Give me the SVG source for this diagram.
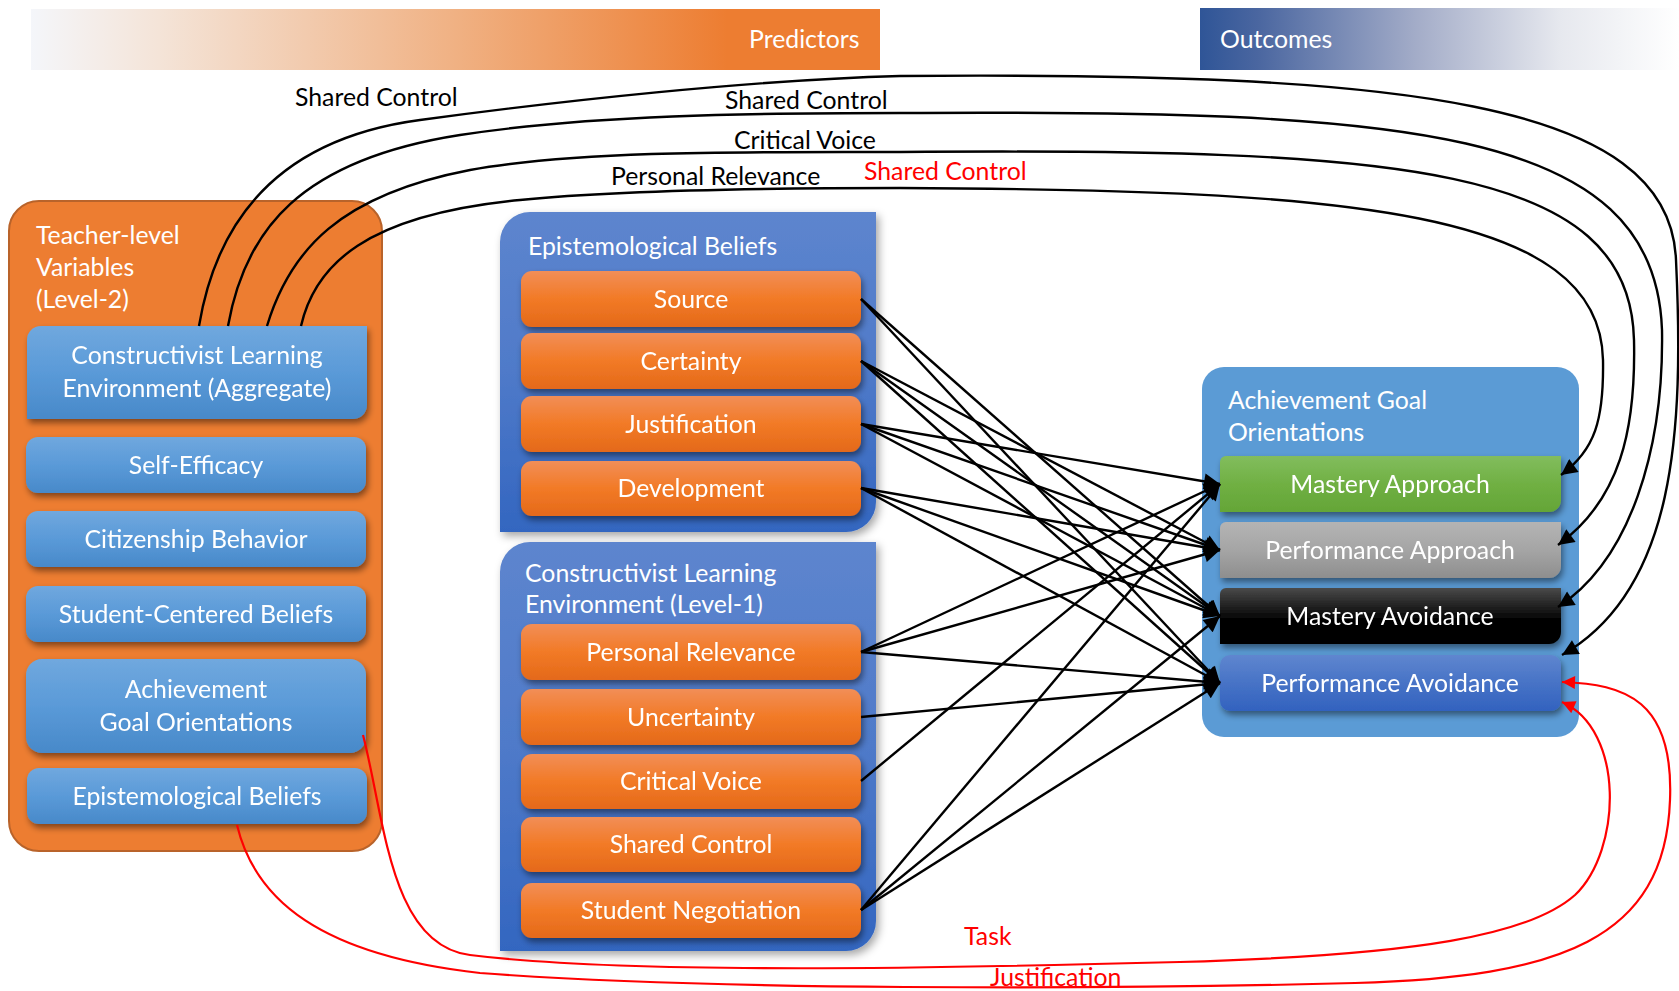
<svg xmlns="http://www.w3.org/2000/svg" width="1679" height="991" viewBox="0 0 1679 991">
  <defs>
    <style>
      text { font-family: Lato, "Open Sans", sans-serif; font-size: 24.8px; }
      .w { fill: #ffffff; }
      .c { text-anchor: middle; }
      .k { fill: #000000; }
      .r { fill: #ff0000; }
      .cv { stroke: #000; stroke-width: 2.4; fill: none; marker-end: url(#ah); }
      .rc { stroke: #ff0000; stroke-width: 2.2; fill: none; marker-end: url(#ahr); }
    </style>
    <linearGradient id="gPred" x1="0" y1="0" x2="1" y2="0">
      <stop offset="0" stop-color="#f4f6fa"/>
      <stop offset="0.15" stop-color="#f4e4d8"/>
      <stop offset="0.5" stop-color="#f0b183"/>
      <stop offset="0.82" stop-color="#ed7d31"/>
      <stop offset="1" stop-color="#ed7d31"/>
    </linearGradient>
    <linearGradient id="gOut" x1="0" y1="0" x2="1" y2="0">
      <stop offset="0" stop-color="#2f5597"/>
      <stop offset="0.12" stop-color="#4a66a0"/>
      <stop offset="0.45" stop-color="#a3acc8"/>
      <stop offset="0.75" stop-color="#e6e8ee"/>
      <stop offset="1" stop-color="#ffffff"/>
    </linearGradient>
    <linearGradient id="gBlue" x1="0" y1="0" x2="0" y2="1">
      <stop offset="0" stop-color="#70a8de"/>
      <stop offset="0.5" stop-color="#5a9ad8"/>
      <stop offset="1" stop-color="#4889c9"/>
    </linearGradient>
    <linearGradient id="gOrange" x1="0" y1="0" x2="0" y2="1">
      <stop offset="0" stop-color="#f28e57"/>
      <stop offset="0.5" stop-color="#f27a26"/>
      <stop offset="1" stop-color="#e4691a"/>
    </linearGradient>
    <linearGradient id="gPanel" x1="0" y1="0" x2="0" y2="1">
      <stop offset="0" stop-color="#5d85ce"/>
      <stop offset="0.5" stop-color="#4f7ac9"/>
      <stop offset="1" stop-color="#3366c0"/>
    </linearGradient>
    <linearGradient id="gGreen" x1="0" y1="0" x2="0" y2="1">
      <stop offset="0" stop-color="#82bd5e"/>
      <stop offset="0.5" stop-color="#70b043"/>
      <stop offset="1" stop-color="#64a537"/>
    </linearGradient>
    <linearGradient id="gGray" x1="0" y1="0" x2="0" y2="1">
      <stop offset="0" stop-color="#b4b4b4"/>
      <stop offset="0.5" stop-color="#a5a5a5"/>
      <stop offset="1" stop-color="#8e8e8e"/>
    </linearGradient>
    <linearGradient id="gBlack" x1="0" y1="0" x2="0" y2="1">
      <stop offset="0" stop-color="#4a4a4a"/>
      <stop offset="0.55" stop-color="#050505"/>
      <stop offset="1" stop-color="#000000"/>
    </linearGradient>
    <linearGradient id="gPav" x1="0" y1="0" x2="0" y2="1">
      <stop offset="0" stop-color="#5f86cf"/>
      <stop offset="0.5" stop-color="#4773c6"/>
      <stop offset="1" stop-color="#3262bf"/>
    </linearGradient>
    <filter id="sh" x="-10%" y="-20%" width="125%" height="160%">
      <feDropShadow dx="2" dy="4" stdDeviation="3" flood-color="#000" flood-opacity="0.45"/>
    </filter>
    <filter id="shp" x="-10%" y="-10%" width="125%" height="125%">
      <feDropShadow dx="3" dy="4" stdDeviation="4" flood-color="#000" flood-opacity="0.35"/>
    </filter>
    <marker id="ah" viewBox="0 0 10 10" refX="10" refY="5" markerWidth="18" markerHeight="16" markerUnits="userSpaceOnUse" orient="auto">
      <path d="M0,0 L10,5 L0,10 Z" fill="#000"/>
    </marker>
    <marker id="ahr" viewBox="0 0 10 10" refX="10" refY="5" markerWidth="15" markerHeight="13" markerUnits="userSpaceOnUse" orient="auto">
      <path d="M0,0 L10,5 L0,10 Z" fill="#ff0000"/>
    </marker>
  </defs>

  <rect width="1679" height="991" fill="#ffffff"/>

  <!-- header bars -->
  <g id="predictors-bar">
    <rect x="31" y="9" width="849" height="61" fill="url(#gPred)"/>
    <text x="749" y="48" class="w">Predictors</text>
  </g>
  <g id="outcomes-bar">
    <rect x="1200" y="8" width="479" height="62" fill="url(#gOut)"/>
    <text x="1220" y="48" class="w">Outcomes</text>
  </g>

  <!-- teacher level panel -->
  <g id="teacher-level">
    <rect x="9" y="201" width="373" height="650" rx="30" fill="#ed7d31" stroke="#b9632a" stroke-width="2"/>
    <text x="36" y="244" class="w">Teacher-level</text>
    <text x="36" y="276" class="w">Variables</text>
    <text x="36" y="308" class="w">(Level-2)</text>
  </g>
  <g id="t-cle-aggregate" filter="url(#sh)">
    <path d="M41,326 H367 V405 A14 14 0 0 1 353,419 H27 V340 A14 14 0 0 1 41,326 Z" fill="url(#gBlue)"/>
    <text x="197" y="364" class="w c">Constructivist Learning</text>
    <text x="197" y="397" class="w c">Environment (Aggregate)</text>
  </g>
  <g id="t-self-efficacy" filter="url(#sh)">
    <rect x="26" y="437" width="340" height="56" rx="12" fill="url(#gBlue)"/>
    <text x="196" y="474" class="w c">Self-Efficacy</text>
  </g>
  <g id="t-citizenship" filter="url(#sh)">
    <rect x="26" y="511" width="340" height="56" rx="12" fill="url(#gBlue)"/>
    <text x="196" y="548" class="w c">Citizenship Behavior</text>
  </g>
  <g id="t-student-centered" filter="url(#sh)">
    <rect x="26" y="586" width="340" height="56" rx="12" fill="url(#gBlue)"/>
    <text x="196" y="623" class="w c">Student-Centered Beliefs</text>
  </g>
  <g id="t-ago" filter="url(#sh)">
    <rect x="26" y="659" width="340" height="94" rx="16" fill="url(#gBlue)"/>
    <text x="196" y="698" class="w c">Achievement</text>
    <text x="196" y="731" class="w c">Goal Orientations</text>
  </g>
  <g id="t-epistemological" filter="url(#sh)">
    <rect x="27" y="768" width="340" height="56" rx="12" fill="url(#gBlue)"/>
    <text x="197" y="805" class="w c">Epistemological Beliefs</text>
  </g>

  <!-- epistemological beliefs panel -->
  <g id="epistemological-beliefs">
    <path d="M530,212 H876 V502 A30 30 0 0 1 846,532 H500 V242 A30 30 0 0 1 530,212 Z" fill="url(#gPanel)" filter="url(#shp)"/>
    <text x="528" y="255" class="w">Epistemological Beliefs</text>
  </g>
  <g id="eb-source" filter="url(#sh)">
    <rect x="521" y="271" width="340" height="56" rx="11" fill="url(#gOrange)"/>
    <text x="691" y="308" class="w c">Source</text>
  </g>
  <g id="eb-certainty" filter="url(#sh)">
    <rect x="521" y="333" width="340" height="56" rx="11" fill="url(#gOrange)"/>
    <text x="691" y="370" class="w c">Certainty</text>
  </g>
  <g id="eb-justification" filter="url(#sh)">
    <rect x="521" y="396" width="340" height="56" rx="11" fill="url(#gOrange)"/>
    <text x="691" y="433" class="w c">Justification</text>
  </g>
  <g id="eb-development" filter="url(#sh)">
    <rect x="521" y="461" width="340" height="55" rx="11" fill="url(#gOrange)"/>
    <text x="691" y="497" class="w c">Development</text>
  </g>

  <!-- constructivist learning environment panel -->
  <g id="cle-level1">
    <path d="M530,542 H876 V921 A30 30 0 0 1 846,951 H500 V572 A30 30 0 0 1 530,542 Z" fill="url(#gPanel)" filter="url(#shp)"/>
    <text x="525" y="582" class="w">Constructivist Learning</text>
    <text x="525" y="613" class="w">Environment (Level-1)</text>
  </g>
  <g id="cle-personal-relevance" filter="url(#sh)">
    <rect x="521" y="624" width="340" height="56" rx="11" fill="url(#gOrange)"/>
    <text x="691" y="661" class="w c">Personal Relevance</text>
  </g>
  <g id="cle-uncertainty" filter="url(#sh)">
    <rect x="521" y="689" width="340" height="56" rx="11" fill="url(#gOrange)"/>
    <text x="691" y="726" class="w c">Uncertainty</text>
  </g>
  <g id="cle-critical-voice" filter="url(#sh)">
    <rect x="521" y="754" width="340" height="55" rx="11" fill="url(#gOrange)"/>
    <text x="691" y="790" class="w c">Critical Voice</text>
  </g>
  <g id="cle-shared-control" filter="url(#sh)">
    <rect x="521" y="817" width="340" height="55" rx="11" fill="url(#gOrange)"/>
    <text x="691" y="853" class="w c">Shared Control</text>
  </g>
  <g id="cle-student-negotiation" filter="url(#sh)">
    <rect x="521" y="883" width="340" height="55" rx="11" fill="url(#gOrange)"/>
    <text x="691" y="919" class="w c">Student Negotiation</text>
  </g>

  <!-- achievement goal orientations panel -->
  <g id="achievement-goals">
    <rect x="1202" y="367" width="377" height="370" rx="22" fill="#5b9bd5"/>
    <text x="1228" y="409" class="w">Achievement Goal</text>
    <text x="1228" y="441" class="w">Orientations</text>
  </g>
  <g id="ago-mastery-approach" filter="url(#sh)">
    <path d="M1226,456 H1561 V500 A12 12 0 0 1 1549,512 H1220 V462 A6 6 0 0 1 1226,456 Z" fill="url(#gGreen)"/>
    <text x="1390" y="493" class="w c">Mastery Approach</text>
  </g>
  <g id="ago-performance-approach" filter="url(#sh)">
    <path d="M1226,522 H1561 V566 A12 12 0 0 1 1549,578 H1220 V528 A6 6 0 0 1 1226,522 Z" fill="url(#gGray)"/>
    <text x="1390" y="559" class="w c">Performance Approach</text>
  </g>
  <g id="ago-mastery-avoidance" filter="url(#sh)">
    <path d="M1226,588 H1561 V632 A12 12 0 0 1 1549,644 H1220 V594 A6 6 0 0 1 1226,588 Z" fill="url(#gBlack)"/>
    <text x="1390" y="625" class="w c">Mastery Avoidance</text>
  </g>
  <g id="ago-performance-avoidance" filter="url(#sh)">
    <rect x="1220" y="655" width="341" height="56" rx="10" fill="url(#gPav)"/>
    <text x="1390" y="692" class="w c">Performance Avoidance</text>
  </g>

  <!-- connectors -->
  <g id="connectors">
    <!-- level-1 predictors to goal orientations -->
    <g class="straight">
      <line class="cv" x1="861" y1="299" x2="1220" y2="616"/>
      <line class="cv" x1="861" y1="299" x2="1220" y2="683"/>
      <line class="cv" x1="861" y1="361" x2="1220" y2="550"/>
      <line class="cv" x1="861" y1="361" x2="1220" y2="616"/>
      <line class="cv" x1="861" y1="361" x2="1220" y2="683"/>
      <line class="cv" x1="861" y1="424" x2="1220" y2="484"/>
      <line class="cv" x1="861" y1="424" x2="1220" y2="550"/>
      <line class="cv" x1="861" y1="424" x2="1220" y2="616"/>
      <line class="cv" x1="861" y1="488" x2="1220" y2="550"/>
      <line class="cv" x1="861" y1="488" x2="1220" y2="616"/>
      <line class="cv" x1="861" y1="488" x2="1220" y2="683"/>
      <line class="cv" x1="861" y1="652" x2="1220" y2="484"/>
      <line class="cv" x1="861" y1="652" x2="1220" y2="550"/>
      <line class="cv" x1="861" y1="652" x2="1220" y2="683"/>
      <line class="cv" x1="861" y1="717" x2="1220" y2="683"/>
      <line class="cv" x1="861" y1="781" x2="1220" y2="484"/>
      <line class="cv" x1="861" y1="910" x2="1220" y2="484"/>
      <line class="cv" x1="861" y1="910" x2="1220" y2="616"/>
      <line class="cv" x1="861" y1="910" x2="1220" y2="683"/>
    </g>
    <!-- cross-level interactions from the aggregate environment -->
    <path class="cv" d="M199,326 C215,230 270,140 420,120 C560,101 750,80 900,76 C1400,72 1670,100 1676,260 C1684,430 1676,590 1562,655"/>
    <path class="cv" d="M228,326 C245,230 300,160 460,135 C590,115 750,113 900,113 C1400,110 1655,125 1662,330 C1664,450 1630,560 1558,607"/>
    <path class="cv" d="M267,326 C290,250 340,195 470,170 C580,150 750,152 900,152 C1400,148 1630,165 1634,340 C1636,430 1620,500 1558,545"/>
    <path class="cv" d="M301,326 C315,265 365,215 520,200 C620,190 780,188 900,188 C1350,190 1600,210 1603,360 C1604,420 1595,450 1561,475"/>
    <!-- red interactions along the bottom -->
    <path class="rc" d="M363,735 C385,820 390,945 470,955 C630,975 950,968 1180,962 C1420,955 1530,935 1575,895 C1622,850 1625,730 1562,702"/>
    <path class="rc" d="M237,825 C255,900 320,955 480,973 C700,990 1100,990 1355,983 C1560,977 1665,940 1670,800 C1674,700 1625,684 1562,682"/>
    <!-- labels -->
    <text x="295" y="106" class="k">Shared Control</text>
    <text x="725" y="109" class="k">Shared Control</text>
    <text x="734" y="149" class="k">Critical Voice</text>
    <text x="611" y="185" class="k">Personal Relevance</text>
    <text x="864" y="180" class="r">Shared Control</text>
    <text x="964" y="945" class="r">Task</text>
    <text x="990" y="986" class="r">Justification</text>
  </g>
</svg>
